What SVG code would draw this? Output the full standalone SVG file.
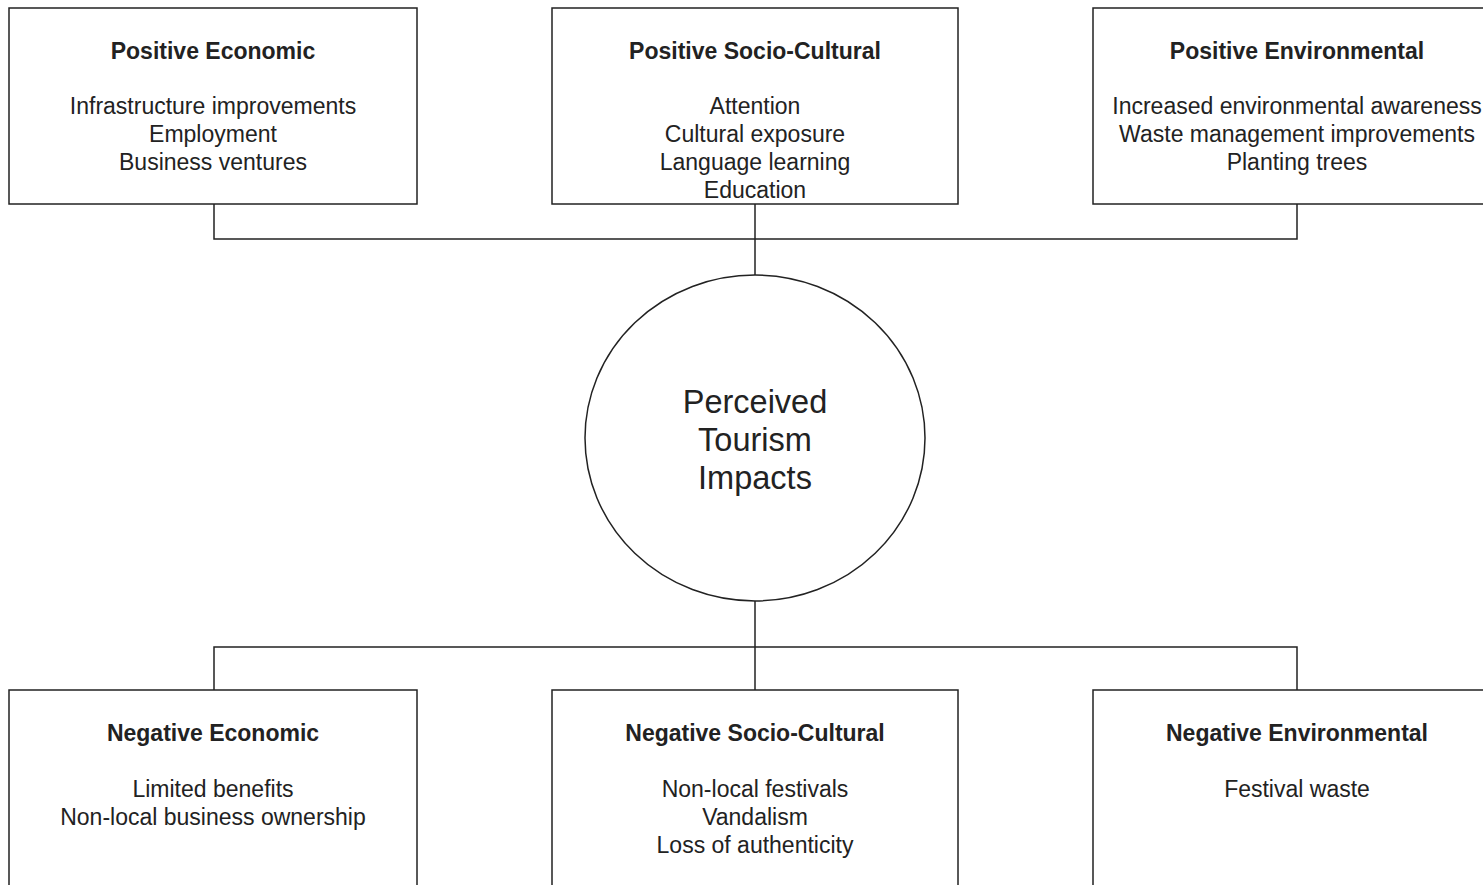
<svg xmlns="http://www.w3.org/2000/svg" width="1483" height="885" viewBox="0 0 1483 885">
<style>
.box{fill:#fff;stroke:#222;stroke-width:1.5}
.ln{fill:none;stroke:#222;stroke-width:1.5}
text{font-family:"Liberation Sans",Arial,sans-serif;fill:#222;text-anchor:middle}
.t{font-weight:bold;font-size:23px}
.b{font-size:23px}
.c{font-size:32.5px}
</style>
<rect width="1483" height="885" fill="#fff"/>
<g id="connectors">
<polyline class="ln" points="214,204 214,239 1297,239 1297,204"/>
<line class="ln" x1="755" y1="204" x2="755" y2="275"/>
<line class="ln" x1="755" y1="601" x2="755" y2="690"/>
<polyline class="ln" points="214,690 214,647 1297,647 1297,690"/>
</g>
<g id="pos-econ">
<rect class="box" x="9" y="8" width="408" height="196"/>
<text class="t" x="213" y="59">Positive Economic</text>
<text class="b" x="213" y="114">Infrastructure improvements</text>
<text class="b" x="213" y="142">Employment</text>
<text class="b" x="213" y="170">Business ventures</text>
</g>
<g id="pos-socio">
<rect class="box" x="552" y="8" width="406" height="196"/>
<text class="t" x="755" y="59">Positive Socio-Cultural</text>
<text class="b" x="755" y="114">Attention</text>
<text class="b" x="755" y="142">Cultural exposure</text>
<text class="b" x="755" y="170">Language learning</text>
<text class="b" x="755" y="198">Education</text>
</g>
<g id="pos-env">
<rect class="box" x="1093" y="8" width="410" height="196"/>
<text class="t" x="1297" y="59">Positive Environmental</text>
<text class="b" x="1297" y="114">Increased environmental awareness</text>
<text class="b" x="1297" y="142">Waste management improvements</text>
<text class="b" x="1297" y="170">Planting trees</text>
</g>
<g id="center">
<ellipse class="box" cx="755" cy="438" rx="170" ry="163"/>
<text class="c" x="755" y="413">Perceived</text>
<text class="c" x="755" y="451">Tourism</text>
<text class="c" x="755" y="489">Impacts</text>
</g>
<g id="neg-econ">
<rect class="box" x="9" y="690" width="408" height="210"/>
<text class="t" x="213" y="741">Negative Economic</text>
<text class="b" x="213" y="797">Limited benefits</text>
<text class="b" x="213" y="825">Non-local business ownership</text>
</g>
<g id="neg-socio">
<rect class="box" x="552" y="690" width="406" height="210"/>
<text class="t" x="755" y="741">Negative Socio-Cultural</text>
<text class="b" x="755" y="797">Non-local festivals</text>
<text class="b" x="755" y="825">Vandalism</text>
<text class="b" x="755" y="853">Loss of authenticity</text>
</g>
<g id="neg-env">
<rect class="box" x="1093" y="690" width="410" height="210"/>
<text class="t" x="1297" y="741">Negative Environmental</text>
<text class="b" x="1297" y="797">Festival waste</text>
</g>
</svg>
